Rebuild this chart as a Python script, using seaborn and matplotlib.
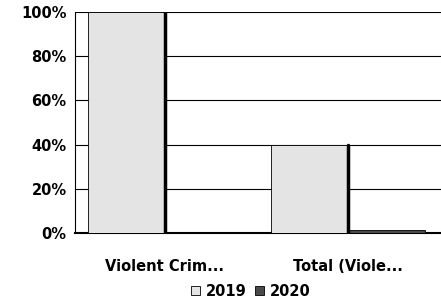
import matplotlib
matplotlib.use('Agg')
import matplotlib.pyplot as plt
import seaborn as sns
import pandas as pd
from matplotlib.ticker import PercentFormatter

categories = ['Violent Crim...', 'Total (Viole...']
years = ['2019', '2020']
values_2019 = [100, 40]
values_2020 = [0, 1.5]
colors = {'2019': '#e4e4e4', '2020': '#4a4a4a'}

data = pd.DataFrame({
    'category': categories * 2,
    'year': [years[0]] * 2 + [years[1]] * 2,
    'value': values_2019 + values_2020,
})

sns.set_style('white')
plt.rcParams['font.family'] = ['DejaVu Sans']
plt.rcParams['text.color'] = 'black'
plt.rcParams['xtick.color'] = 'black'
plt.rcParams['ytick.color'] = 'black'

fig = plt.figure(figsize=(4.41, 3.05), dpi=100)
ax = fig.add_axes([0.17, 0.236, 0.83, 0.725])

sns.barplot(
    data=data,
    x='category',
    y='value',
    hue='year',
    palette=colors,
    width=0.84,
    edgecolor='black',
    linewidth=0.6,
    ax=ax,
    zorder=3,
)

# thick dark right edge on the 2019 bars, as in the reference
for patch in ax.containers[0]:
    right = patch.get_x() + patch.get_width()
    ax.plot([right, right], [0, patch.get_height()], color='black', lw=2.5, zorder=4)

ax.set_ylim(0, 100)
ax.set_xlim(-0.49, 1.51)
ax.set_yticks([0, 20, 40, 60, 80, 100])
ax.yaxis.set_major_formatter(PercentFormatter(decimals=0))
ax.yaxis.grid(True, color='black', linewidth=0.8, zorder=0)
ax.set_xlabel('')
ax.set_ylabel('')
ax.tick_params(axis='both', length=0, labelsize=10.5, labelcolor='black')
ax.tick_params(axis='y', pad=6)
ax.tick_params(axis='x', pad=19)
for label in ax.get_yticklabels() + ax.get_xticklabels():
    label.set_fontweight('bold')

for side in ['top', 'right']:
    ax.spines[side].set_visible(False)
ax.spines['left'].set_color('black')
ax.spines['bottom'].set_color('black')
ax.spines['bottom'].set_linewidth(1.5)

ax.legend(
    loc='upper center',
    bbox_to_anchor=(0.48, -0.17),
    ncol=2,
    frameon=False,
    handlelength=0.6,
    handleheight=0.6,
    handletextpad=0.4,
    columnspacing=0.6,
    prop={'weight': 'bold', 'size': 10.5},
)

fig.savefig('out.png', dpi=100)
